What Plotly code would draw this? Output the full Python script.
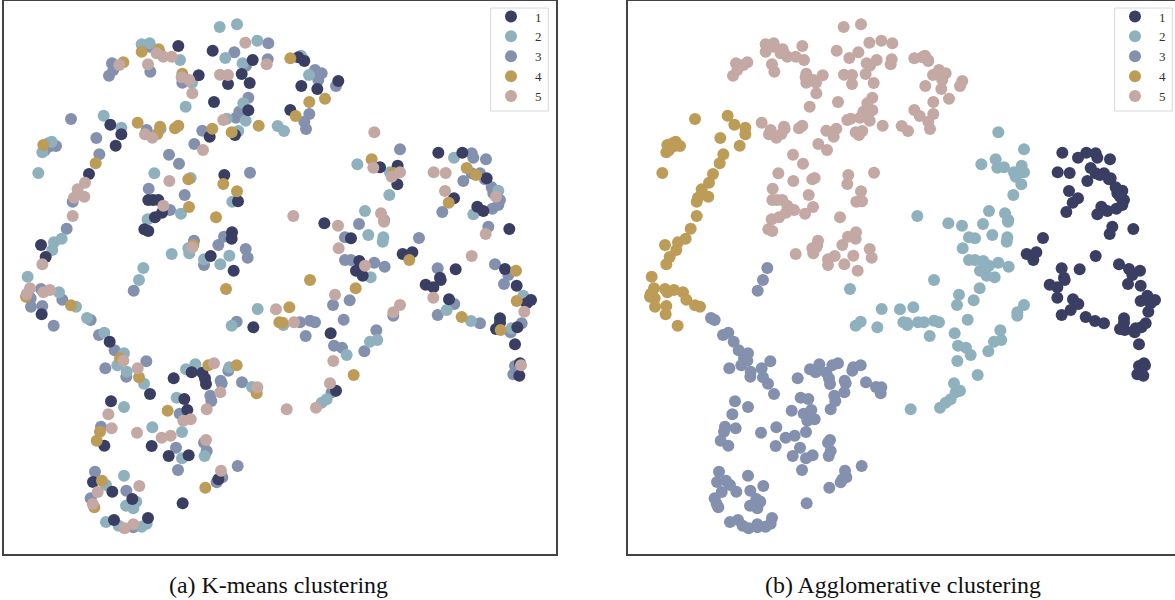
import plotly.graph_objects as go

# Points: (x, y, agglomerative cluster), grouped by k-means cluster.
KM1 = [(535,138,5),(638,152,5),(758,180,5),(725,222,5),(749,249,5),(684,252,5),(596,226,5),(642,306,5),(745,331,5),
(331,374,4),(364,403,4),(347,437,4),(629,410,5),(705,405,5),(673,525,5),(267,522,4),(459,600,5),(445,600,5),(475,600,5),
(714,604,5),(486,638,5),(465,652,5),(433,688,5),(445,693,5),(696,697,5),(695,716,5),(123,735,4),(137,771,4),(632,768,5),(701,812,5),
(895,172,5),(913,183,5),(904,258,5),(952,267,5),(1015,243,5),(871,330,5),(1315,458,1),(1387,458,1),(1140,502,2),(1193,497,2),
(1192,553,2),(1460,535,1),(1362,595,1),(1432,620,1),(1450,633,1),(1528,687,1),(973,670,2),(1053,715,2),(1208,762,1),(1237,757,1),
(1078,783,2),(1068,812,2),(1088,827,2),(1367,808,1),(1515,807,1),(1320,833,1),
(125,943,4),(329,1025,3),(521,1135,3),(575,1117,3),(607,1118,3),(615,1135,3),(618,1152,3),(450,1182,3),(333,1204,3),(553,1197,3),
(562,1230,3),(455,1338,3),(313,1337,3),(506,1368,3),(566,1366,3),(279,1446,3),(337,1475,3),(397,1497,3),(548,1510,3),(342,1560,3),
(444,1554,3),(760,982,2),(655,1438,3),
(1277,854,1),(1300,862,1),(1322,840,1),(1550,857,1),(1347,898,1),(1580,910,1),(1593,900,1),(1500,955,1),(1500,968,1),(1488,987,1),
(1552,982,1),(1545,1033,1),(992,1000,2),(1558,1127,1),(1560,1090,1),(1008,1172,2)]

KM2 = [(659,81,5),(711,73,5),(425,133,5),(449,130,5),(772,122,5),(540,180,5),(676,174,5),(728,190,5),(576,248,5),(557,320,5),
(730,310,5),(311,347,4),(680,356,5),(737,362,5),(364,383,4),(482,386,5),(715,393,5),(833,378,5),(155,425,4),(127,457,4),
(115,519,4),(463,520,5),(572,534,5),(697,605,5),(543,641,5),(443,658,5),(162,727,4),(185,716,4),(157,750,4),(565,745,5),
(568,760,5),(515,762,5),(612,778,5),(688,767,5),(661,793,5),(430,804,3),(83,830,4),(417,840,3),
(903,167,5),(912,180,5),(927,225,5),(852,393,5),(1072,493,2),(1362,473,1),(1168,585,2),(1495,572,1),(1420,643,1),(1095,633,2),
(1153,660,2),(1105,705,2),(1150,712,2),(1148,725,2),(1112,832,2),(1170,517,2),
(177,877,4),(228,920,4),(261,954,3),(313,998,3),(372,1060,3),(352,1096,3),(380,1115,3),(432,1151,3),(372,1221,3),(530,1193,3),
(457,1282,3),(546,1296,3),(546,1375,3),(614,1368,3),(558,1108,3),(586,1093,3),(688,1102,3),(756,1161,3),(695,977,2),(773,927,2),
(372,1427,3),(318,1455,3),(378,1517,3),(395,1515,3),(409,1505,3),(400,1525,3),(318,1566,3),(356,1577,3),(425,1580,3),(440,1571,3),
(1570,887,1),(1340,930,1),(1413,963,1),(1535,985,1),(850,975,2),(1040,1065,2),(1110,1025,2),(1132,1020,2),(965,1208,2),(980,1198,2)]

KM3 = [(805,130,5),(703,157,5),(803,178,5),(738,197,5),(336,190,5),(340,210,5),(327,227,5),(451,215,5),(547,248,5),(745,293,5),
(718,335,5),(708,353,5),(213,357,4),(440,390,5),(607,392,5),(289,414,4),(146,430,4),(168,438,4),(135,450,4),(298,463,4),
(583,432,5),(507,464,5),(537,491,5),(750,518,5),(446,566,5),(554,585,5),(218,605,4),(510,630,5),(200,686,4),(582,722,5),
(672,710,5),(655,735,5),(737,747,5),(743,773,5),(612,795,5),
(945,210,5),(965,220,5),(955,240,5),(1008,258,5),(928,342,5),(913,365,5),(918,387,5),(1200,448,2),(1415,460,1),(1420,473,1),
(1458,478,1),(1390,543,1),(1415,520,1),(1455,538,1),(1475,562,1),(1327,636,1),(1477,626,1),(1495,615,1),(1465,680,1),(1077,672,2),
(1035,712,2),(1257,714,1),(1035,780,2),(1053,780,2),(1123,788,2),(1154,800,2),(1485,793,1),(1313,805,1),(1525,825,1),
(123,867,4),(92,895,4),(93,920,4),(127,918,4),(187,899,4),(161,977,4),(401,872,3),(272,960,3),(297,1005,3),(344,1051,3),
(316,1105,3),(379,1130,3),(439,1084,3),(662,1142,3),(665,1150,3),(726,1147,3),(631,1187,3),(634,1203,3),(685,1112,3),(710,965,2),
(539,1241,3),(303,1280,3),(528,1343,3),(612,1328,3),(620,1353,3),(534,1410,3),(713,1398,3),(667,1432,3),(650,1447,3),(285,1415,3),
(379,1472,3),(272,1495,3),(400,1582,3),
(1512,852,1),(999,915,2),(1049,901,2),(900,967,2),(930,962,2),(945,967,2),(917,1008,2),(1031,959,2),(1363,912,1),(1313,945,1),
(1440,970,1),(1565,970,1),(1532,997,1),(1180,947,2),(1129,991,2),(1093,1054,2),(1002,1037,2),(1026,1043,2),(995,1177,2),(1005,1172,2),
(1545,1098,1),(1540,1123,1),
(140,442,4),(152,438,4),(450,140,5),(480,160,5),(1440,520,1),(1480,580,1),(1500,600,1)]

KM4 = [(425,155,5),(476,148,5),(370,187,5),(547,221,5),(413,368,5),(480,380,5),(472,402,5),(525,385,5),(535,377,5),(637,386,5),
(695,397,5),(776,377,5),(287,490,4),(565,538,5),(670,552,5),(711,574,5),(567,621,5),(648,652,5),(580,735,5),(130,435,4),
(871,175,5),(928,306,5),(975,296,5),(887,348,5),(1115,478,2),(1180,519,2),(1400,504,1),(1428,525,1),(1346,608,1),(1228,780,1),(1548,812,1),(930,840,2),
(78,890,4),(213,916,4),(360,1075,3),(417,1132,3),(625,1096,3),(710,1096,3),(770,1180,3),(503,1232,3),(300,1295,3),(290,1322,3),
(306,1442,3),(283,1522,3),(616,1463,3),(838,967,2),(678,867,2),
(1067,865,2),(868,922,2),(848,968,2),(1550,903,1),(1385,951,1),(1502,990,1),(1061,1125,2)]

KM5 = [(736,128,5),(800,193,5),(358,195,5),(444,193,5),(490,170,5),(515,170,5),(470,160,5),(545,232,5),(568,240,5),(660,224,5),
(684,225,5),(577,280,5),(670,360,5),(435,403,5),(457,413,5),(609,450,5),(508,543,5),(255,548,4),(233,568,4),(222,593,4),
(253,590,4),(218,648,4),(127,793,4),(490,617,5),(577,742,5),
(1123,397,2),(1120,503,2),(1175,530,2),(1200,517,2),(1301,517,1),(1337,519,1),(1335,573,1),(1488,590,1),(1457,702,1),(880,648,2),
(1014,677,2),(1143,640,2),(1152,665,2),(1016,745,2),(1415,768,1),(1095,797,2),
(90,865,4),(80,882,4),(130,877,4),(150,870,4),(370,1082,3),(413,1105,3),(642,1090,3),(661,1177,3),(772,1162,3),(620,1228,3),
(325,1243,3),(335,1285,3),(411,1298,3),(485,1313,3),(512,1307,3),(550,1262,3),(572,1258,3),(618,1320,3),(663,1412,3),(418,1458,3),
(293,1476,3),(278,1512,3),(374,1585,3),(400,1573,3),(828,928,2),
(1005,884,2),(1200,915,2),(1180,937,2),(1300,893,1),(1573,935,1),(882,967,2),(1000,1083,2),(990,1150,2),(948,1223,2),(860,1228,2),(1563,1096,1)]

LABELS = ["1", "2", "3", "4", "5"]
COLORS = ["#393e62", "#8fb1be", "#8491ae", "#bd9c58", "#c4a8a3"]
CAPTIONS = ["(a) K-means clustering", "(b) Agglomerative clustering"]
KMEANS = [KM1, KM2, KM3, KM4, KM5]
DRAW_ORDER = [2, 1, 0, 3, 4]

W, H = 1182, 600
SERIF = "Liberation Serif"
MS = 12
fig = go.Figure()

for i in DRAW_ORDER:
    pts = KMEANS[i]
    fig.add_trace(go.Scatter(x=[p[0] for p in pts], y=[p[1] for p in pts], mode="markers", name=LABELS[i],
                             marker=dict(size=MS, color=COLORS[i]), xaxis="x", yaxis="y",
                             legend="legend", legendrank=i + 1))

ALL = [p for g in KMEANS for p in g]
for i in range(5):
    pts = [p for p in ALL if p[2] == i + 1]
    fig.add_trace(go.Scatter(x=[p[0] for p in pts], y=[p[1] for p in pts], mode="markers", name=LABELS[i],
                             marker=dict(size=MS, color=COLORS[i]), xaxis="x2", yaxis="y2",
                             legend="legend2", legendrank=i + 1))

LINE = dict(showline=True, linecolor="#444444", linewidth=1.5, showgrid=False, zeroline=False,
            showticklabels=False, ticks="", mirror=True)
legend_base = dict(bgcolor="rgba(0,0,0,0)", borderwidth=0, xanchor="left", yanchor="top",
                   font=dict(family=SERIF, size=13, color="#333333"), itemsizing="trace", itemwidth=38,
                   itemclick=False, itemdoubleclick=False, tracegroupgap=0)


def box(x0, x1):
    return dict(type="rect", xref="paper", yref="paper", x0=x0 / W, x1=x1 / W, y0=1 - 111 / H, y1=1 - 8 / H,
                fillcolor="#ffffff", line=dict(color="#d8d8d8", width=1), layer="above")


fig.update_layout(
    width=W, height=H, margin=dict(l=0, r=0, t=0, b=0), paper_bgcolor="#ffffff", plot_bgcolor="#ffffff",
    xaxis=dict(domain=[4 / W, 555.5 / W], range=[12, 1666.5], **LINE),
    yaxis=dict(domain=[1 - 553.5 / H, 1 - 1 / H], range=[1660.5, 3], **LINE),
    xaxis2=dict(domain=[628 / W, 1179.5 / W], range=[12, 1666.5], anchor="y2", **LINE),
    yaxis2=dict(domain=[1 - 553.5 / H, 1 - 1 / H], range=[1660.5, 3], anchor="x2", **LINE),
    legend=dict(x=487 / W, y=1 - 1.5 / H, **legend_base),
    legend2=dict(x=1111 / W, y=1 - 1.5 / H, **legend_base),
    shapes=[box(490.7, 548.3), box(1114.7, 1172.3)],
    annotations=[
        dict(text=CAPTIONS[0], x=278.5 / W, y=1 - 585 / H, xref="paper", yref="paper", showarrow=False,
             xanchor="center", yanchor="middle", font=dict(family=SERIF, size=23.9, color="#111111")),
        dict(text=CAPTIONS[1], x=902.5 / W, y=1 - 585 / H, xref="paper", yref="paper", showarrow=False,
             xanchor="center", yanchor="middle", font=dict(family=SERIF, size=23.9, color="#111111")),
    ],
)

fig.write_html("out.html", config={"displayModeBar": False},
               post_script="document.body.style.margin='0';document.documentElement.style.overflow='hidden';")
